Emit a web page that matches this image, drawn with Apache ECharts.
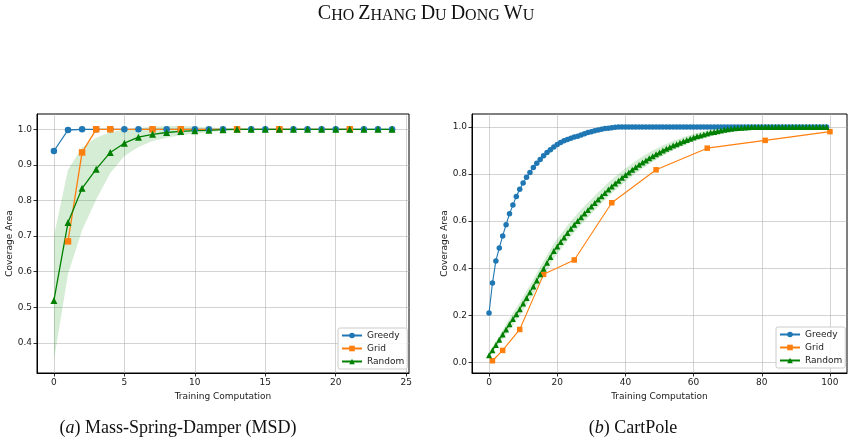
<!DOCTYPE html>
<html><head><meta charset="utf-8">
<script src="https://cdn.jsdelivr.net/npm/echarts@6/dist/echarts.min.js"></script>
<style>html,body{margin:0;padding:0;background:#fff}#c{width:854px;height:446px}</style>
</head><body><div id="c"></div>
<script>
// ---------- Data: (a) Mass-Spring-Damper ----------
const msdX = [0,1,2,3,4,5,6,7,8,9,10,11,12,13,14,15,16,17,18,19,20,21,22,23,24];
const msdGreedy = [0.939,0.998,1,1,1,1,1,1,1,1,1,1,1,1,1,1,1,1,1,1,1,1,1,1,1];
const msdGridX = [1,2,3,4,7,9,13,16,21];
const msdGridY = [0.685,0.935,1,1,1,1,1,1,1];
const msdRandom = [0.519,0.738,0.834,0.888,0.935,0.961,0.978,0.986,0.991,0.994,0.996,0.997,0.999,1,1,1,1,1,1,1,1,1,1,1,1];
const msdRandomLow = [0.351,0.593,0.716,0.803,0.877,0.925,0.950,0.967,0.976,0.983,0.988,0.992,0.996,0.998,0.999,1,1,1,1,1,1,1,1,1,1];
const msdRandomHigh = [0.700,0.886,0.949,0.976,0.992,0.999,1.004,1.007,1.009,1.009,1.008,1.006,1.003,1.001,1,1,1,1,1,1,1,1,1,1,1];
const msdXTicks = [0,5,10,15,20,25];
const msdYTicks = [0.4,0.5,0.6,0.7,0.8,0.9,1.0];

// ---------- Data: (b) CartPole ----------
const cpGreedy = [0.210,0.337,0.431,0.486,0.537,0.585,0.631,0.668,0.705,0.735,
0.762,0.786,0.807,0.828,0.846,0.862,0.878,0.891,0.903,0.915,
0.925,0.934,0.941,0.947,0.952,0.957,0.961,0.966,0.971,0.976,
0.980,0.984,0.987,0.990,0.993,0.995,0.997,0.999,1,1,
1,1,1,1,1,1,1,1,1,1, 1,1,1,1,1,1,1,1,1,1,
1,1,1,1,1,1,1,1,1,1, 1,1,1,1,1,1,1,1,1,1,
1,1,1,1,1,1,1,1,1,1, 1,1,1,1,1,1,1,1,1,1];
const cpGridX = [1,4,9,16,25,36,49,64,81,100];
const cpGridY = [0.007,0.051,0.140,0.374,0.435,0.678,0.818,0.910,0.943,0.980];
const cpRandom = [0.030,0.052,0.074,0.096,0.118,0.140,0.162,0.184,0.205,0.226,
0.250,0.274,0.298,0.322,0.348,0.374,0.398,0.423,0.448,0.473,
0.492,0.511,0.530,0.550,0.568,0.585,0.601,0.617,0.632,0.647,
0.662,0.677,0.692,0.706,0.720,0.734,0.747,0.760,0.772,0.784,
0.796,0.807,0.818,0.829,0.839,0.849,0.858,0.867,0.876,0.884,
0.892,0.900,0.907,0.914,0.921,0.927,0.933,0.939,0.945,0.950,
0.955,0.960,0.964,0.968,0.972,0.976,0.979,0.982,0.985,0.988,
0.990,0.992,0.994,0.996,0.997,0.998,0.999,1,1,1,
1,1,1,1,1,1,1,1,1,1, 1,1,1,1,1,1,1,1,1,1];
const cpRandomSpread = [0.008,0.011,0.014,0.017,0.020,0.022,0.024,0.026,0.027,0.028,
0.029,0.030,0.030,0.031,0.031,0.032,0.032,0.032,0.032,0.032,
0.032,0.032,0.032,0.032,0.032,0.032,0.032,0.032,0.032,0.032,
0.031,0.031,0.031,0.030,0.030,0.030,0.029,0.029,0.029,0.028,
0.028,0.027,0.027,0.026,0.026,0.025,0.025,0.024,0.024,0.023,
0.022,0.022,0.021,0.020,0.020,0.019,0.018,0.018,0.017,0.016,
0.015,0.015,0.014,0.013,0.012,0.012,0.011,0.010,0.009,0.009,
0.008,0.007,0.006,0.006,0.005,0.004,0.004,0.003,0.003,0.002,
0.002,0.002,0.001,0.001,0.001,0.001,0.001,0.001,0.001,0.001,
0,0,0,0,0,0,0,0,0,0];
const cpXTicks = [0,20,40,60,80,100];
const cpYTicks = [0,0.2,0.4,0.6,0.8,1.0];

const seriesNames = ['Greedy','Grid','Random'];
const titleText = 'Cho Zhang Du Dong Wu';
const captionA = ['a', 'Mass-Spring-Damper (MSD)'];
const captionB = ['b', 'CartPole'];

// ---------- Build ----------
const BLUE = '#1f77b4', ORANGE = '#ff7f0e', GREEN = '#008000';
const FONT = 'DejaVu Sans';
const cpX = cpGreedy.map((_, i) => i);
const pairs = (xs, ys) => ys.map((y, i) => [xs[i], y]);

function smallCaps(s) {
  return s.split(' ').map(w => '{a|' + w[0].toUpperCase() + '}{b|' + w.slice(1).toUpperCase() + '}').join('{b| }');
}

function xAxis(gi, min, max, ticks) {
  return {
    type: 'value', gridIndex: gi, min: min, max: max,
    axisLine: { show: true, onZero: false, lineStyle: { color: '#000', width: 1 } },
    axisTick: { show: true, customValues: ticks, length: 3.5, lineStyle: { color: '#000', width: 0.8 } },
    axisLabel: { customValues: ticks, margin: 5, fontSize: 9, color: '#1a1a1a', fontFamily: FONT },
    splitLine: { show: true, lineStyle: { color: '#b0b0b0', width: 0.8, opacity: 0.7 } },
    name: 'Training Computation', nameLocation: 'middle', nameGap: 16,
    nameTextStyle: { fontSize: 9, color: '#1a1a1a', fontFamily: FONT }
  };
}
function yAxis(gi, min, max, ticks, gap) {
  return {
    type: 'value', gridIndex: gi, min: min, max: max,
    axisLine: { show: true, onZero: false, lineStyle: { color: '#000', width: 1 } },
    axisTick: { show: true, customValues: ticks, length: 3.5, lineStyle: { color: '#000', width: 0.8 } },
    axisLabel: { customValues: ticks, margin: 5, fontSize: 9, color: '#1a1a1a', fontFamily: FONT,
      formatter: v => Number(v).toFixed(1) },
    splitLine: { show: true, lineStyle: { color: '#b0b0b0', width: 0.8, opacity: 0.7 } },
    name: 'Coverage Area', nameLocation: 'middle', nameGap: gap,
    nameTextStyle: { fontSize: 9, color: '#1a1a1a', fontFamily: FONT }
  };
}
function band(gi, xs, low, high) {
  return {
    type: 'custom', name: '_band' + gi, xAxisIndex: gi, yAxisIndex: gi, silent: true, z: 1, clip: true,
    data: xs.map((x, i) => [x, low[i], high[i]]),
    encode: { x: 0, y: [1, 2] },
    renderItem: function (params, api) {
      if (params.dataIndex !== 0) return null;
      const pts = [];
      for (let i = 0; i < xs.length; i++) pts.push(api.coord([xs[i], high[i]]));
      for (let i = xs.length - 1; i >= 0; i--) pts.push(api.coord([xs[i], low[i]]));
      return { type: 'polygon', shape: { points: pts }, style: { fill: 'rgba(44,160,44,0.2)' } };
    }
  };
}
function line(gi, name, data, color, symbol, size, width) {
  return { type: 'line', name: name, xAxisIndex: gi, yAxisIndex: gi, data: data,
    symbol: symbol, symbolSize: size, showSymbol: true,
    lineStyle: { color: color, width: width }, itemStyle: { color: color }, z: 3 };
}
function legend(left, top) {
  return {
    data: seriesNames, orient: 'vertical', left: left, top: top,
    itemWidth: 20, itemHeight: 7, itemGap: 4,
    padding: [3, 3, 3, 3], backgroundColor: 'rgba(255,255,255,0.85)',
    borderColor: '#cccccc', borderWidth: 1, borderRadius: 2,
    textStyle: { fontSize: 9, color: '#1a1a1a', fontFamily: FONT },
    selectedMode: false
  };
}

const cpLow = cpRandom.map((v, i) => v - cpRandomSpread[i]);
const cpHigh = cpRandom.map((v, i) => v + cpRandomSpread[i]);

const chart = echarts.init(document.getElementById('c'), null, { renderer: 'canvas' });
chart.setOption({
  backgroundColor: '#fff',
  animation: false,
  grid: [
    { left: 37, top: 114, width: 372, height: 259, show: true, borderColor: '#000', borderWidth: 1, backgroundColor: 'transparent' },
    { left: 472, top: 114, width: 375, height: 259, show: true, borderColor: '#000', borderWidth: 1, backgroundColor: 'transparent' }
  ],
  xAxis: [ xAxis(0, -1.2, 25.2, msdXTicks), xAxis(1, -5, 105, cpXTicks) ],
  yAxis: [ yAxis(0, 0.315, 1.043, msdYTicks, 22), yAxis(1, -0.045, 1.055, cpYTicks, 22) ],
  legend: [ legend(338, 328), legend(776, 327) ],
  series: [
    band(0, msdX, msdRandomLow, msdRandomHigh),
    line(0, seriesNames[0], pairs(msdX, msdGreedy), BLUE, 'circle', 6.5, 1.3),
    line(0, seriesNames[1], pairs(msdGridX, msdGridY), ORANGE, 'rect', 6.5, 1.3),
    line(0, seriesNames[2], pairs(msdX, msdRandom), GREEN, 'triangle', 7, 1.3),
    band(1, cpX, cpLow, cpHigh),
    line(1, seriesNames[0], pairs(cpX, cpGreedy), BLUE, 'circle', 5.5, 1.1),
    line(1, seriesNames[1], pairs(cpGridX, cpGridY), ORANGE, 'rect', 5.5, 1.1),
    line(1, seriesNames[2], pairs(cpX, cpRandom), GREEN, 'triangle', 6, 1.1)
  ],
  graphic: [
    { type: 'text', x: 426, y: 14, style: { text: smallCaps(titleText), align: 'center', verticalAlign: 'middle', fill: '#111',
      rich: { a: { fontFamily: 'Liberation Serif', fontSize: 20, lineHeight: 20, verticalAlign: 'bottom', fill: '#111' },
              b: { fontFamily: 'Liberation Serif', fontSize: 16, lineHeight: 16, verticalAlign: 'bottom', fill: '#111' } } } },
    { type: 'text', x: 178, y: 428, style: { text: '{n|(}{i|' + captionA[0] + '}{n|) ' + captionA[1] + '}', align: 'center', verticalAlign: 'middle',
      rich: { n: { fontFamily: 'Liberation Serif', fontSize: 18, fill: '#111' }, i: { fontFamily: 'Liberation Serif', fontSize: 18, fontStyle: 'italic', fill: '#111' } } } },
    { type: 'text', x: 633, y: 428, style: { text: '{n|(}{i|' + captionB[0] + '}{n|) ' + captionB[1] + '}', align: 'center', verticalAlign: 'middle',
      rich: { n: { fontFamily: 'Liberation Serif', fontSize: 18, fill: '#111' }, i: { fontFamily: 'Liberation Serif', fontSize: 18, fontStyle: 'italic', fill: '#111' } } } }
  ]
});
</script></body></html>
